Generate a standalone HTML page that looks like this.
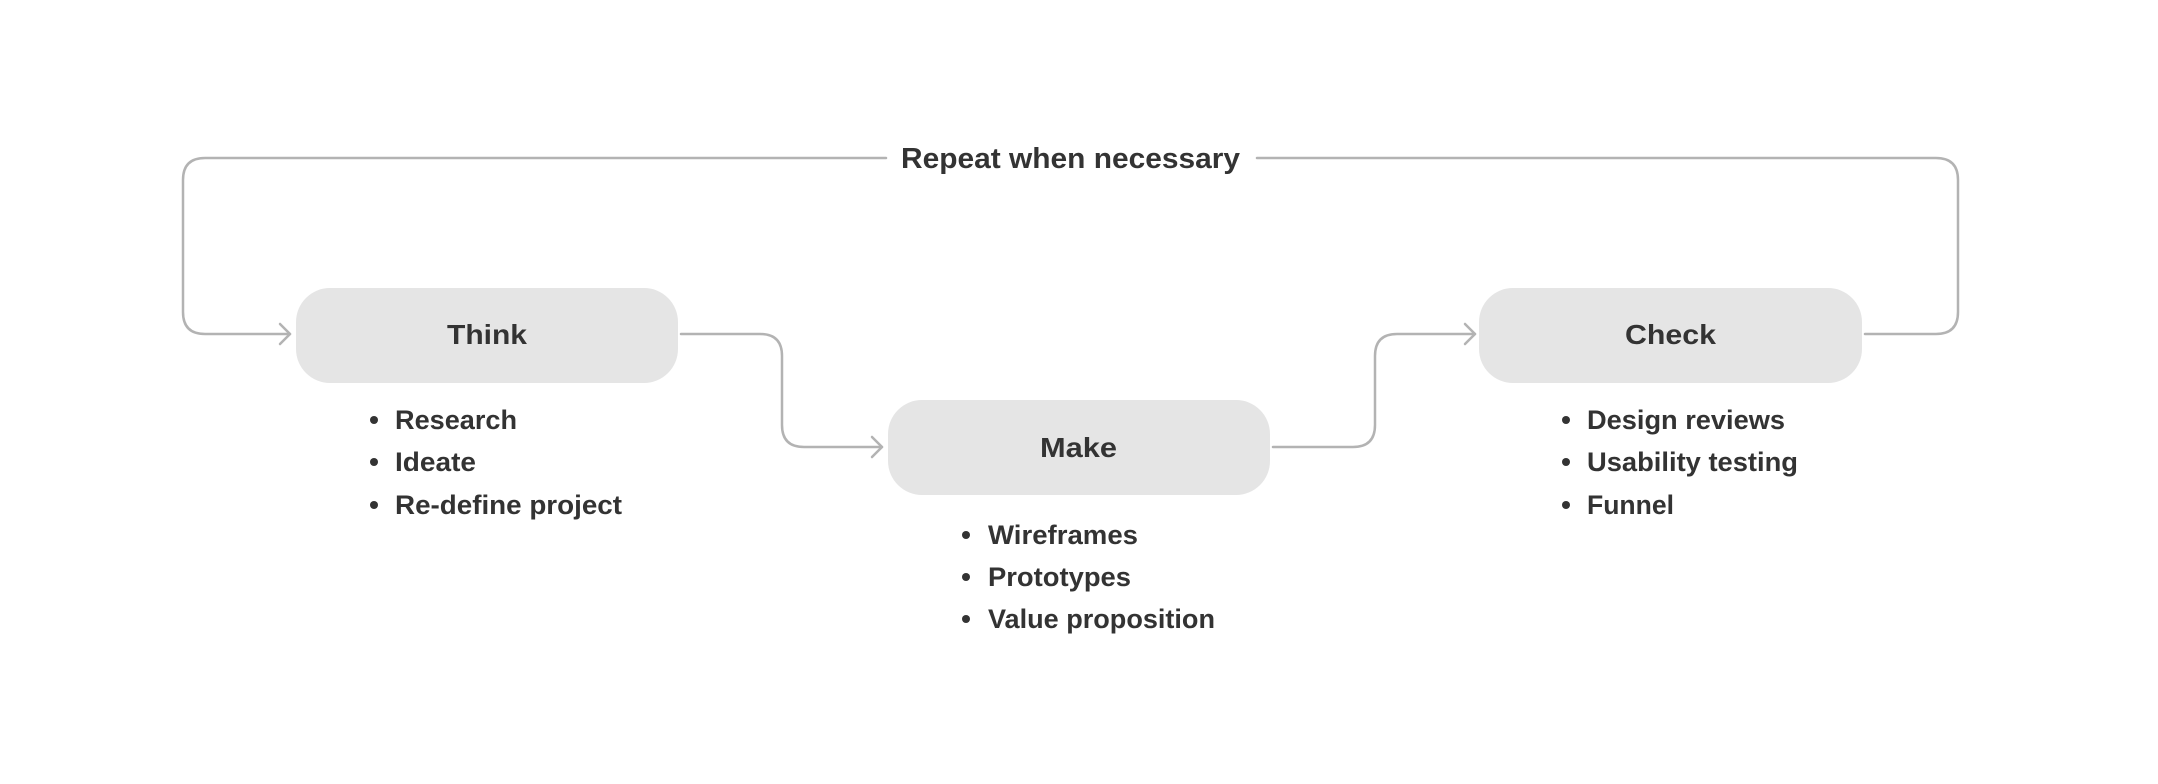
<!DOCTYPE html>
<html><head><meta charset="utf-8"><style>
html,body{margin:0;padding:0;background:#fff;}
svg{display:block;}
text{font-family:"Liberation Sans",sans-serif;font-weight:bold;fill:#333;}
</style></head><body>
<svg width="2158" height="784" viewBox="0 0 2158 784" xmlns="http://www.w3.org/2000/svg">
<g fill="none" stroke="#b3b3b3" stroke-width="2.5" stroke-linecap="round" stroke-linejoin="round">
<path d="M886 158 H205 Q183 158 183 180 V312 Q183 334 205 334 H290"/>
<path d="M280 324 L290 334 L280 344"/>
<path d="M681 334 H760 Q782 334 782 356 V425 Q782 447 804 447 H882"/>
<path d="M872 437 L882 447 L872 457"/>
<path d="M1273 447 H1353 Q1375 447 1375 425 V356 Q1375 334 1397 334 H1475"/>
<path d="M1465 324 L1475 334 L1465 344"/>
<path d="M1865 334 H1936 Q1958 334 1958 312 V180 Q1958 158 1936 158 H1257"/>
</g>
<rect x="296" y="288" width="382" height="95" rx="34" fill="#e5e5e5"/>
<rect x="888" y="400" width="382" height="95" rx="34" fill="#e5e5e5"/>
<rect x="1479" y="288" width="383" height="95" rx="34" fill="#e5e5e5"/>
<text x="901" y="168" font-size="29" textLength="339" lengthAdjust="spacingAndGlyphs">Repeat when necessary</text>
<text x="447" y="344" font-size="28" textLength="80" lengthAdjust="spacingAndGlyphs">Think</text>
<text x="1040" y="457" font-size="28" textLength="77" lengthAdjust="spacingAndGlyphs">Make</text>
<text x="1625" y="344" font-size="28" textLength="91" lengthAdjust="spacingAndGlyphs">Check</text>
<g fill="#333">
<circle cx="374" cy="420" r="4"/><circle cx="374" cy="462" r="4"/><circle cx="374" cy="505" r="4"/>
<circle cx="966" cy="535" r="4"/><circle cx="966" cy="577" r="4"/><circle cx="966" cy="619" r="4"/>
<circle cx="1566" cy="420" r="4"/><circle cx="1566" cy="462" r="4"/><circle cx="1566" cy="505" r="4"/>
</g>
<g font-size="27">
<text x="395" y="429" textLength="122" lengthAdjust="spacingAndGlyphs">Research</text>
<text x="395" y="471" textLength="81" lengthAdjust="spacingAndGlyphs">Ideate</text>
<text x="395" y="514" textLength="227" lengthAdjust="spacingAndGlyphs">Re-define project</text>
<text x="988" y="544" textLength="150" lengthAdjust="spacingAndGlyphs">Wireframes</text>
<text x="988" y="586" textLength="143" lengthAdjust="spacingAndGlyphs">Prototypes</text>
<text x="988" y="628" textLength="227" lengthAdjust="spacingAndGlyphs">Value proposition</text>
<text x="1587" y="429" textLength="198" lengthAdjust="spacingAndGlyphs">Design reviews</text>
<text x="1587" y="471" textLength="211" lengthAdjust="spacingAndGlyphs">Usability testing</text>
<text x="1587" y="514" textLength="87" lengthAdjust="spacingAndGlyphs">Funnel</text>
</g>
</svg>
</body></html>
